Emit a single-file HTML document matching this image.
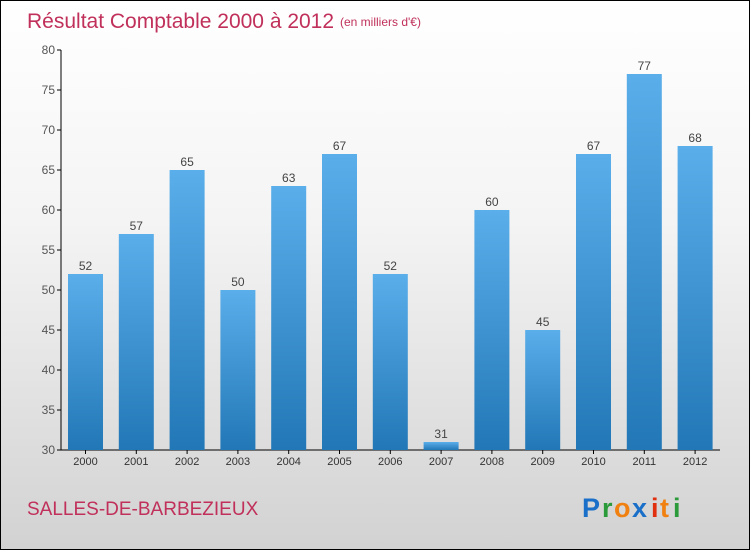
<!DOCTYPE html>
<html><head><meta charset="utf-8"><style>
html,body{margin:0;padding:0}
body{width:750px;height:550px;overflow:hidden;font-family:"Liberation Sans","DejaVu Sans",sans-serif}
#wrap{position:absolute;left:0;top:0;width:748px;height:548px;border:1px solid #000;background:linear-gradient(#ffffff 0%,#f4f4f4 40%,#d2d2d2 100%)}
</style></head><body>
<div id="wrap">
<svg id="chart" width="750" height="550" style="position:absolute;left:-1px;top:-1px">
<defs><linearGradient id="bg" x1="0" y1="0" x2="0" y2="1"><stop offset="0" stop-color="#5aaeea"/><stop offset="1" stop-color="#2277b6"/></linearGradient></defs>
<text x="27" y="28" font-size="21" fill="#c0305a">Résultat Comptable 2000 à 2012</text>
<text x="340" y="26" font-size="12" fill="#c0305a">(en milliers d'€)</text>
<text x="27" y="515" font-size="19" fill="#c0305a">SALLES-DE-BARBEZIEUX</text>
<g font-size="27" font-weight="bold">
<text x="582" y="517" fill="#1a6fc8">P</text><text x="602" y="517" fill="#2a9a3a">r</text><text x="614" y="517" fill="#f08010">o</text><text x="632" y="517" fill="#1a6fc8">x</text><text x="651" y="517" fill="#e03010">i</text><text x="660" y="517" fill="#f08010">t</text><text x="673" y="517" fill="#2a9a3a">i</text>
</g>
<g id="axes"></g><g id="bars"></g>
</svg>
</div>
<script>
const categories=["2000","2001","2002","2003","2004","2005","2006","2007","2008","2009","2010","2011","2012"];
const values=[52,57,65,50,63,67,52,31,60,45,67,77,68];
const yTicks=[30,35,40,45,50,55,60,65,70,75,80];
const NS="http://www.w3.org/2000/svg";
const yMin=30,yMax=80,top0=50,bot=450,x0=61,step=50.8,c0=85.5,bw=35;
const y=v=>bot-(v-yMin)/(yMax-yMin)*(bot-top0);
const xc=i=>c0+i*step;
function mk(t,a,p){const e=document.createElementNS(NS,t);for(const k in a)e.setAttribute(k,a[k]);p.appendChild(e);return e;}
const ax=document.getElementById('axes'),bars=document.getElementById('bars');
const yl=mk('line',{x1:x0,y1:top0,x2:x0,y2:bot,stroke:'#000'},ax);


const xl=mk('line',{x1:x0,y1:bot,x2:720,y2:bot,stroke:'#000'},ax);


yTicks.forEach(v=>{
 mk('line',{x1:x0-4,y1:y(v),x2:x0,y2:y(v),stroke:'#000'},ax);
 const t=mk('text',{x:x0-6,y:y(v)+4,'font-size':12,fill:'#555','text-anchor':'end'},ax);t.textContent=v;
 
 
});
categories.forEach((c,i)=>{
 const cx=xc(i);
 mk('line',{x1:cx,y1:bot,x2:cx,y2:bot+4,stroke:'#000'},ax);
 const t=mk('text',{x:cx,y:bot+15,'font-size':11,fill:'#333','text-anchor':'middle'},ax);t.textContent=c;
 
 
 const r=mk('rect',{x:cx-bw/2,y:y(values[i]),width:bw,height:bot-y(values[i]),fill:'url(#bg)'},bars);
 
 
 const l=mk('text',{x:cx,y:y(values[i])-4,'font-size':12,fill:'#444','text-anchor':'middle'},bars);l.textContent=values[i];
 
 
});
</script>
</body></html>
